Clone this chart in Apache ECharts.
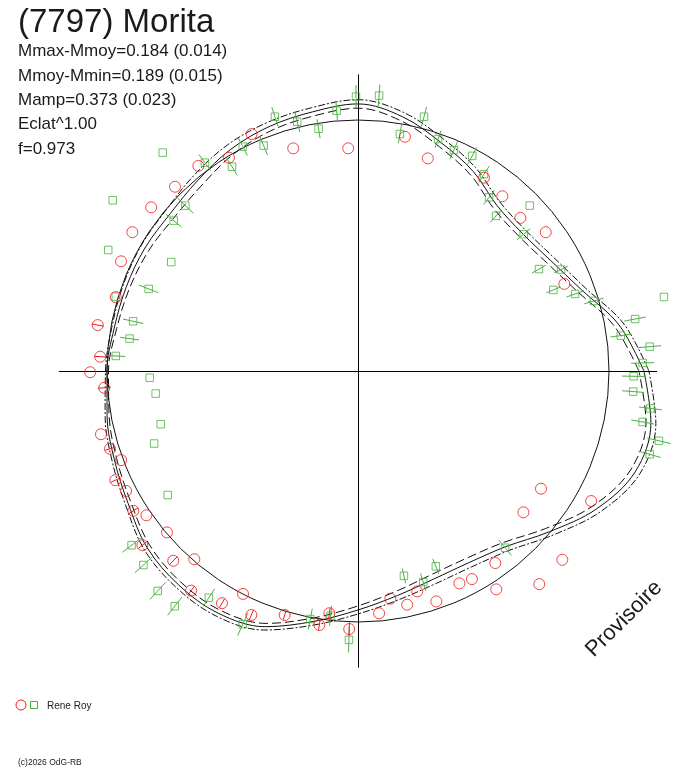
<!DOCTYPE html>
<html>
<head>
<meta charset="utf-8">
<script src="https://cdn.jsdelivr.net/npm/echarts@6/dist/echarts.min.js"></script>
<style>
html,body{margin:0;padding:0;background:#fff;}
#chart{width:688px;height:768px;}
</style>
</head>
<body>
<div id="chart"></div>
<script>
// ---- data (radius normalised to the mean-brightness circle = 1) ----
const phaseDeg = [0,10,20,30,40,50,60,70,80,90,100,110,120,130,140,150,160,170,
                  180,190,200,210,220,230,240,250,260,270,280,290,300,310,320,330,340,350];
const modelR = [1.139,1.056,0.947,0.884,0.854,0.861,0.918,0.968,1.028,1.064,1.048,1.036,1.018,0.992,0.976,0.980,0.982,0.986,
                1.000,1.015,1.033,1.057,1.096,1.112,1.114,1.084,1.013,0.952,0.908,0.882,0.882,0.914,0.996,1.098,1.175,1.185];
const upperR = [1.159,1.076,0.965,0.902,0.872,0.879,0.936,0.986,1.046,1.081,1.065,1.054,1.040,1.017,0.998,0.998,0.996,0.996,
                1.006,1.023,1.043,1.069,1.110,1.126,1.128,1.098,1.028,0.968,0.926,0.902,0.902,0.934,1.016,1.118,1.195,1.205];
const lowerR = [1.119,1.036,0.929,0.866,0.836,0.843,0.900,0.950,1.010,1.047,1.031,1.018,0.996,0.967,0.954,0.962,0.968,0.976,
                0.994,1.007,1.023,1.045,1.082,1.098,1.100,1.070,0.998,0.936,0.890,0.862,0.862,0.894,0.976,1.078,1.155,1.165];

// observations: [x, y, error half-length] (error 0 = none)
const redPoints = [
 [-0.424,0.944,0],[-0.514,0.850,0],[-0.636,0.817,0],[-0.729,0.734,0],[-0.824,0.652,0],[-0.899,0.553,0],
 [-0.944,0.437,0],[-0.965,0.294,0],[-1.037,0.183,0.024],[-1.027,0.057,0.024],[-1.067,-0.005,0],
 [-0.258,0.887,0],[-0.039,0.887,0],[0.187,0.933,0],[0.278,0.847,0],[0.502,0.770,0],[0.575,0.696,0],
 [0.647,0.610,0],[0.748,0.553,0],[0.822,0.347,0],
 [-1.011,-0.067,0.026],[-1.024,-0.252,0],[-0.988,-0.310,0.02],[-0.944,-0.355,0],[-0.967,-0.435,0.02],
 [-0.924,-0.478,0],[-0.895,-0.557,0.022],[-0.843,-0.575,0],[-0.761,-0.643,0],[-0.859,-0.694,0.02],
 [-0.736,-0.756,0.022],[-0.652,-0.750,0],[-0.665,-0.875,0.022],[-0.542,-0.925,0.02],[-0.458,-0.888,0],
 [-0.425,-0.972,0.022],[-0.292,-0.972,0.02],[-0.154,-1.012,0.022],[-0.114,-0.965,0.02],[-0.035,-1.028,0.026],
 [0.729,-0.469,0],[0.659,-0.563,0],[0.929,-0.518,0],[0.814,-0.752,0],[0.722,-0.849,0],[0.547,-0.765,0],
 [0.551,-0.870,0],[0.454,-0.829,0],[0.404,-0.846,0],[0.236,-0.878,0],[0.312,-0.918,0],[0.196,-0.931,0],
 [0.129,-0.907,0],[0.084,-0.965,0]
];
const greenPoints = [
 [-0.610,0.830,0.040],[-0.502,0.814,0.040],[-0.459,0.894,0.040],[-0.376,0.898,0.040],[-0.331,1.013,0.040],
 [-0.242,0.993,0.042],[-0.157,0.965,0.038],[-0.085,1.037,0.040],[-0.008,1.093,0.046],[-0.688,0.659,0.044],
 [-0.734,0.599,0.040],[-0.834,0.327,0.042],[-0.896,0.198,0.041],[-0.910,0.129,0.038],[-0.965,0.060,0.038],
 [0.084,1.097,0.044],[0.167,0.944,0.036],[0.263,1.013,0.040],[0.319,0.924,0.036],[0.382,0.880,0.040],
 [0.455,0.857,0.038],[0.502,0.784,0.038],[0.522,0.692,0.036],[0.550,0.618,0.034],[0.660,0.545,0.034],
 [0.721,0.406,0.032],[0.809,0.404,0.030],[0.778,0.323,0.030],[0.865,0.307,0.036],[0.940,0.279,0.040],
 [1.104,0.207,0.044],[1.047,0.141,0.042],[1.162,0.097,0.046],[1.134,0.032,0.046],[1.098,-0.021,0.046],
 [1.096,-0.082,0.044],[1.165,-0.149,0.046],[1.134,-0.203,0.046],[1.199,-0.278,0.048],[1.162,-0.332,0.046],
 [0.586,-0.704,0.040],[0.310,-0.778,0.032],[0.183,-0.816,0.030],[0.260,-0.841,0.036],
 [-0.902,-0.694,0.046],[-0.855,-0.773,0.046],[-0.798,-0.876,0.046],[-0.730,-0.937,0.046],[-0.594,-0.903,0.042],
 [-0.459,-1.009,0.050],[-0.190,-0.988,0.042],[-0.109,-0.975,0.040],[-0.036,-1.071,0.050],
 [-0.778,0.870,0],[-0.977,0.680,0],[-0.995,0.482,0],[-0.744,0.434,0],[-0.965,0.296,0],
 [-0.830,-0.027,0],[-0.806,-0.090,0],[-0.786,-0.212,0],[-0.812,-0.289,0],[-0.758,-0.494,0],
 [0.684,0.659,0],[1.219,0.295,0]
];

const titleText = '(7797) Morita';
const statLines = ['Mmax-Mmoy=0.184 (0.014)','Mmoy-Mmin=0.189 (0.015)','Mamp=0.373 (0.023)','Eclat^1.00','f=0.973'];
const observer = 'Rene Roy';
const stamp = 'Provisoire';
const footer = '(c)2026 OdG-RB';

// ---- build ----
const RED = '#f01818', GREEN = '#4cb040', INK = '#1a1a1a';
function loop(rs){
  const out = [];
  for (let i = 0; i < phaseDeg.length; i++) {
    const a = phaseDeg[i] * Math.PI / 180;
    out.push([rs[i] * Math.cos(a), rs[i] * Math.sin(a)]);
  }
  out.push(out[0]);
  return out;
}
function errSeries(pts, color){
  return {
    type:'custom', silent:true, clip:false, z:3,
    data: pts.filter(p => p[2] > 0),
    encode:{x:0, y:1},
    renderItem: function(params, api){
      const x = api.value(0), y = api.value(1), e = api.value(2);
      const r = Math.sqrt(x*x + y*y);
      const k1 = (r - e) / r, k2 = (r + e) / r;
      const p1 = api.coord([x*k1, y*k1]), p2 = api.coord([x*k2, y*k2]);
      return {type:'line', shape:{x1:p1[0], y1:p1[1], x2:p2[0], y2:p2[1]},
              style:{stroke:color, lineWidth:1}};
    }
  };
}
function curve(rs, type){
  return {type:'line', data: loop(rs), symbol:'none', smooth:0.35, clip:false, silent:true, z:2,
          lineStyle:{color:'#111', width:1, type:type}};
}
const FONT = '"Liberation Sans", Arial, sans-serif';
const graphics = [
  {type:'text', x:18, y:23, style:{text:titleText, font:'33px ' + FONT, fill:INK, verticalAlign:'middle'}}
];
const statBase = [57.3, 81.7, 106, 130.3, 155];
statLines.forEach((t, i) => graphics.push(
  {type:'text', x:18, y:statBase[i] - 5.6, style:{text:t, font:'17px ' + FONT, fill:INK, verticalAlign:'middle'}}));
graphics.push(
  {type:'circle', shape:{cx:21, cy:705, r:5}, style:{fill:'none', stroke:RED, lineWidth:1}},
  {type:'rect', shape:{x:30.5, y:701.5, width:7, height:7}, style:{fill:'none', stroke:GREEN, lineWidth:1}},
  {type:'text', x:47, y:706, style:{text:observer, font:'10px ' + FONT, fill:INK, verticalAlign:'middle'}},
  {type:'text', x:624, y:619, rotation:Math.PI/4,
   style:{text:stamp, font:'22px ' + FONT, fill:INK, align:'center', verticalAlign:'middle'}},
  {type:'text', x:18, y:763, style:{text:footer, font:'8.5px ' + FONT, fill:INK, verticalAlign:'middle'}}
);

const chart = echarts.init(document.getElementById('chart'), null, {renderer:'canvas'});
chart.setOption({
  animation:false,
  backgroundColor:'#fff',
  grid:{left:59.3, top:74.8, width:597.4, height:592.4},
  xAxis:{type:'value', min:-1.19, max:1.19, axisLine:{onZero:true, lineStyle:{color:'#000', width:1}},
         axisTick:{show:false}, axisLabel:{show:false}, splitLine:{show:false}},
  yAxis:{type:'value', min:-1.18, max:1.18, axisLine:{onZero:true, lineStyle:{color:'#000', width:1}},
         axisTick:{show:false}, axisLabel:{show:false}, splitLine:{show:false}},
  polar:{center:[358, 371], radius:251},
  angleAxis:{type:'value', min:0, max:360, axisLine:{show:true, lineStyle:{color:'#111', width:1}},
             axisTick:{show:false}, axisLabel:{show:false}, splitLine:{show:false}},
  radiusAxis:{type:'value', min:0, max:1, show:false},
  graphic:{elements:graphics},
  series:[
    curve(modelR, 'solid'),
    curve(upperR, [7,2,2,2]),
    curve(lowerR, [9,4]),
    errSeries(greenPoints, GREEN),
    errSeries(redPoints, RED),
    {type:'scatter', data: greenPoints.map(p => [p[0], p[1]]), symbol:'rect', symbolSize:7.5, z:4, silent:true, clip:false,
     itemStyle:{color:'rgba(0,0,0,0)', borderColor:GREEN, borderWidth:1}},
    {type:'scatter', data: redPoints.map(p => [p[0], p[1]]), symbol:'circle', symbolSize:11, z:5, silent:true, clip:false,
     itemStyle:{color:'rgba(0,0,0,0)', borderColor:RED, borderWidth:1}}
  ]
});
</script>
</body>
</html>
